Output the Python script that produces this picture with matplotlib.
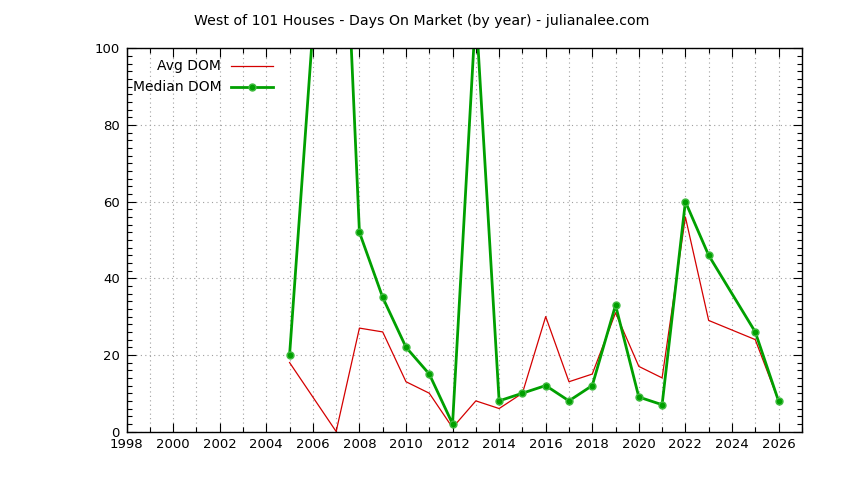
import numpy as np
import matplotlib
matplotlib.use("Agg")
import matplotlib.pyplot as plt
from matplotlib.ticker import MultipleLocator

# values (2006 and 2024 have no data)
years = [2005, 2007, 2008, 2009, 2010, 2011, 2012, 2013, 2014, 2015, 2016,
         2017, 2018, 2019, 2020, 2021, 2022, 2023, 2025, 2026]
avg_dom = [18, 0, 27, 26, 13, 10, 1, 8, 6, 10, 30,
           13, 15, 31, 17, 14, 56, 29, 24, 8]
median_dom = [20, 190, 52, 35, 22, 15, 2, 110, 8, 10, 12,
              8, 12, 33, 9, 7, 60, 46, 26, 8]

title = "West of 101 Houses - Days On Market (by year) - julianalee.com"

plt.rcParams['font.family'] = ['DejaVu Sans']
plt.rcParams['font.size'] = 9

fig = plt.figure(figsize=(8.44, 4.8), dpi=100)
ax = fig.add_axes([0.150, 0.101, 0.800, 0.798])

ax.plot(years, avg_dom, color="#d40000", lw=0.9, label="Avg DOM")
ax.plot(years, median_dom, color="#00a000", lw=2.0, marker="o", ms=5,
        mfc="#00a000", mec="#40bb40", mew=1.0, label="Median DOM")

ax.set_xlim(1998, 2027)
ax.set_ylim(0, 100)
ax.xaxis.set_major_locator(MultipleLocator(2))
ax.xaxis.set_minor_locator(MultipleLocator(1))
ax.yaxis.set_major_locator(MultipleLocator(20))
ax.yaxis.set_minor_locator(MultipleLocator(2))
ax.set_xticks([y for y in range(1998, 2027, 2)])

ax.tick_params(which="both", direction="in", top=True, right=True,
               labelsize=9.5, color="black")
ax.tick_params(which="major", length=6.5, width=0.8, pad=5)
ax.tick_params(which="minor", length=3.5, width=0.8)

ax.grid(True, which="major", axis="y", ls=(0, (1, 3)), color="#a0a0a0", lw=0.8)
ax.grid(True, which="both", axis="x", ls=(0, (1, 3)), color="#a0a0a0", lw=0.8)
ax.set_axisbelow(True)
for s in ax.spines.values():
    s.set_linewidth(1.0)

fig.text(0.5, 0.957, title, ha="center", va="center", fontsize=10.2)

leg = ax.legend(loc="upper left", bbox_to_anchor=(-0.0095, 1.004),
                markerfirst=False, frameon=False, fontsize=10,
                handlelength=3.0, handletextpad=0.7, labelspacing=0.5)

fig.savefig("out.png", dpi=100)
